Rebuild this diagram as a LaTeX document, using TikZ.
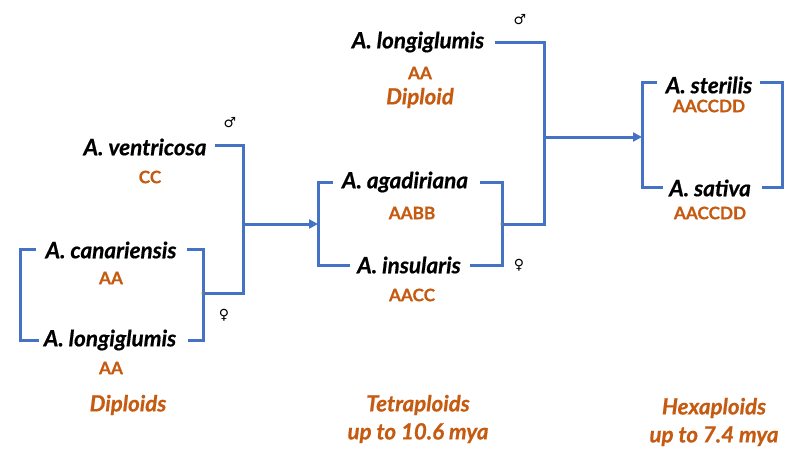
\documentclass[tikz,border=0pt]{standalone}
\usepackage{fontspec}
\setmainfont{Lato}[FakeBold=0.6]
\usetikzlibrary{arrows.meta}
\newfontfamily\symfont{DejaVu Sans}
\definecolor{lineblue}{HTML}{4472C4}
\definecolor{genorange}{HTML}{C55A11}
\tikzset{
  species/.style={inner sep=0pt, font=\fontsize{22.5}{26}\selectfont\bfseries\itshape, text=black},
  genome/.style={inner sep=0pt, font=\fontsize{17.2}{20}\selectfont\bfseries, text=genorange},
  caption/.style={inner sep=0pt, align=center, font=\fontsize{22.3}{28}\selectfont\bfseries\itshape, text=genorange},
  sexsym/.style={inner sep=0pt, font=\fontsize{14}{16}\selectfont\symfont, text=black},
  bracket/.style={draw=lineblue, line width=3pt, line cap=butt, line join=miter},
  link/.style={draw=lineblue, line width=3pt, -{Triangle[length=9pt,width=9pt]}},
  jdot/.style={draw=black!70, line width=0.5pt, fill=white}
}
\begin{document}
\begin{tikzpicture}[x=1pt,y=-1pt]
\useasboundingbox (0,0) rectangle (800,450);
% Diploids
\node[species] (ven) at (145,147) {A. ventricosa};
\node[genome] (venG) at (150,177) {CC};
\node[species] (can) at (111,250) {A. canariensis};
\node[genome] (canG) at (111,278) {AA};
\node[species] (lon1) at (110,340) {A. longiglumis};
\node[genome] (lon1G) at (111,368) {AA};
\node[caption] (dip) at (128,405) {Diploids};
\node[sexsym] (m1) at (230,123) {♂};
\node[sexsym] (f1) at (224,315) {♀};
% Tetraploids
\node[species] (lon2) at (418,42) {A. longiglumis};
\node[genome] (lon2G) at (420,73) {AA};
\node[caption] (lon2C) at (420,98) {Diploid};
\node[sexsym] (m2) at (520,20) {♂};
\node[species] (aga) at (405,182) {A. agadiriana};
\node[genome] (agaG) at (412,213) {AABB};
\node[species] (ins) at (409,265) {A. insularis};
\node[genome] (insG) at (412,295) {AACC};
\node[sexsym] (f2) at (519,265) {♀};
\node[caption] (tet) at (418,419) {Tetraploids\\up to 10.6 mya};
% Hexaploids
\node[species] (ste) at (709,85) {A. sterilis};
\node[genome] (steG) at (709,106) {AACCDD};
\node[species] (sat) at (710,188) {A. sativa};
\node[genome] (satG) at (710,213) {AACCDD};
\node[caption] (hex) at (714,422) {Hexaploids\\up to 7.4 mya};
% Diploid brackets
\draw[bracket] (36,249) -- (20,249) -- (20,340) -- (39,340);
\draw[bracket] (187,249) -- (203,249) -- (203,340) -- (188,340);
\coordinate (j1) at (203,293);
\coordinate (k1) at (243,224);
\draw[bracket] (j1) -- (243,293) -- (243,145) -- (215,145);
% Tetraploid brackets
\coordinate (t1) at (318,224);
\draw[link] (k1) -- (t1);
\draw[bracket] (333,182) -- (318,182) -- (318,265) -- (350,265);
\draw[bracket] (480,182) -- (502,182) -- (502,265) -- (470,265);
\coordinate (j2) at (502,224);
\coordinate (k2) at (544,137);
\draw[bracket] (j2) -- (544,224) -- (544,42) -- (495,42);
% Hexaploid brackets
\coordinate (h1) at (642,137);
\draw[link] (k2) -- (h1);
\draw[bracket] (657,82) -- (642,82) -- (642,187) -- (663,187);
\draw[bracket] (760,82) -- (782,82) -- (782,187) -- (762,187);
% junction dots
\draw[jdot] (j1) circle (1.3pt);
\draw[jdot] (j2) circle (1.3pt);
\end{tikzpicture}
\end{document}
